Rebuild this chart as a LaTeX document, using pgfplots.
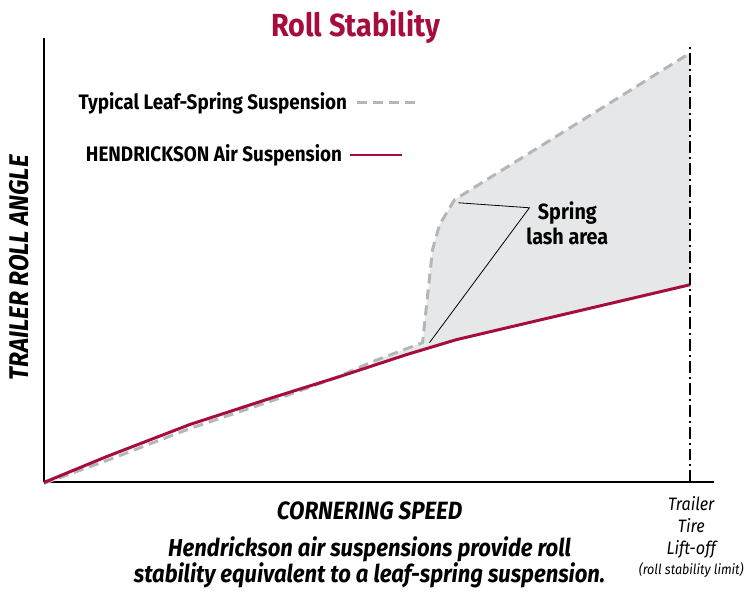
\documentclass[border=0pt]{standalone}
\usepackage{pgfplots}
\pgfplotsset{compat=1.18}
\usepackage{fontspec}
\setmainfont{Fira Sans}[FakeStretch=0.9]
\definecolor{hred}{RGB}{166,13,60}
\definecolor{lgray}{RGB}{180,182,185}
\definecolor{lfill}{RGB}{230,231,232}
\begin{document}
\begin{tikzpicture}
\begin{scope}[x=1pt,y=-1pt]
\useasboundingbox (0,0) rectangle (747,588);
\end{scope}
\begin{axis}[
  at={(44pt,-483pt)}, anchor=origin,
  scale only axis, width=671pt, height=445pt,
  xmin=0, xmax=671, ymin=0, ymax=445,
  axis x line=bottom, axis y line=left,
  axis line style={line width=2pt, -},
  xtick=\empty, ytick=\empty,
  clip=false,
]
% spring lash area fill
\addplot[fill=lfill, draw=none] coordinates {
  (329,121) (379,140) (389,233) (396,258) (411,283) (647,430)
  (647,198) (413,143) (363,128) (329,117)} -- cycle;
% leaf spring (dashed gray)
\addplot[lgray, line width=3pt, dash pattern=on 10pt off 6pt] coordinates {
  (0,-1) (63,22) (146,54) (229,82) (290,104) (329,121) (379,140)
  (389,233) (396,258) (411,283) (647,430)};
% air suspension (red)
\addplot[hred, line width=3pt] coordinates {
  (0,0) (63,26) (146,58) (229,85) (296,106) (363,128) (413,143) (647,198)};
% lift-off limit
\addplot[black, line width=1.6pt, dash pattern=on 12pt off 4pt on 2pt off 4pt] coordinates {(647,0) (647,438)};
% annotation leaders
\draw[black, line width=0.8pt] (axis cs:415,280) -- (axis cs:486,275) -- (axis cs:386,140);
\end{axis}
\begin{scope}[x=1pt,y=-1pt]
\node[font=\fontsize{32}{36}\selectfont\bfseries, text=hred] at (356,27) {Roll Stability};
\node[font=\fontsize{21}{24}\selectfont\bfseries, anchor=east] at (351,103) {Typical Leaf-Spring Suspension};
\draw[lgray, line width=3pt, dash pattern=on 10pt off 6pt] (357,103) -- (415,103);
\node[font=\fontsize{21}{24}\selectfont\bfseries, anchor=east] at (346,155) {HENDRICKSON Air Suspension};
\draw[hred, line width=2.5pt] (350,155) -- (402,155);
\node[font=\fontsize{22}{25}\selectfont\bfseries, align=center] at (568,224) {Spring\\lash area};
\node[font=\fontsize{27}{30}\selectfont\bfseries\itshape, rotate=90] at (19,268) {TRAILER ROLL ANGLE};
\node[font=\fontsize{25}{28}\selectfont\bfseries\itshape] at (370,511) {CORNERING SPEED};
\node[font=\fontsize{24.5}{26}\selectfont\bfseries\itshape, align=center] at (370,563) {Hendrickson air suspensions provide roll\\stability equivalent to a leaf-spring suspension.};
\node[font=\fontsize{18}{22.5}\selectfont\itshape, align=center] at (692,528) {Trailer\\Tire\\Lift-off};
\node[font=\fontsize{14}{16}\selectfont\itshape] at (692,571) {(roll stability limit)};
\end{scope}
\end{tikzpicture}
\end{document}
